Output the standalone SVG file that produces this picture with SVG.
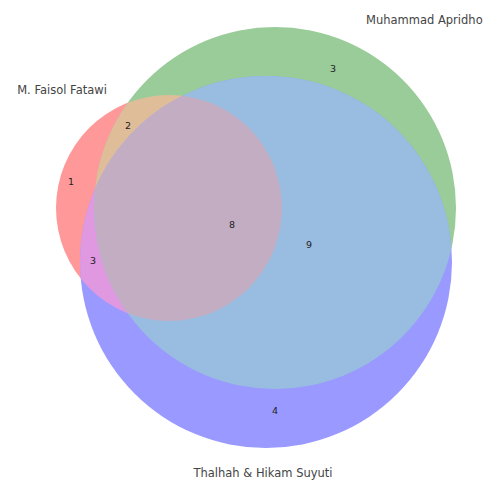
<svg xmlns="http://www.w3.org/2000/svg" width="496" height="481" viewBox="0 0 496 481">
  <style>
    .setlabel { font-family: "DejaVu Sans", "Liberation Sans", sans-serif; font-size: 11.5px; fill: #444444; }
    .num { font-family: "DejaVu Sans", "Liberation Sans", sans-serif; font-size: 9.5px; fill: #222222; text-anchor: middle; dominant-baseline: central; }
  </style>
  <defs>
    <clipPath id="clipA"><circle cx="169" cy="208" r="113"/></clipPath>
    <clipPath id="clipB"><circle cx="275" cy="208" r="181"/></clipPath>
  </defs>
  <rect width="496" height="481" fill="#ffffff"/>
  <g id="set-a-faisol">
    <circle cx="169" cy="208" r="113" fill="#ff9999"/>
  </g>
  <g id="set-b-apridho">
    <circle cx="275" cy="208" r="181" fill="#99cc99"/>
  </g>
  <g id="set-c-thalhah">
    <circle cx="266" cy="262" r="186" fill="#9999ff"/>
  </g>
  <g id="region-ab">
    <circle cx="275" cy="208" r="181" fill="#e0bd99" clip-path="url(#clipA)"/>
  </g>
  <g id="region-ac">
    <circle cx="266" cy="262" r="186" fill="#e099e0" clip-path="url(#clipA)"/>
  </g>
  <g id="region-bc">
    <circle cx="266" cy="262" r="186" fill="#99bde0" clip-path="url(#clipB)"/>
  </g>
  <g id="region-abc" clip-path="url(#clipA)">
    <circle cx="266" cy="262" r="186" fill="#c2adc2" clip-path="url(#clipB)"/>
  </g>
  <g id="connectors"/>
  <g id="labels">
    <text class="setlabel" x="62" y="94" text-anchor="middle">M. Faisol Fatawi</text>
    <text class="setlabel" x="366" y="24">Muhammad Apridho</text>
    <text class="setlabel" x="263" y="477" text-anchor="middle">Thalhah &amp; Hikam Suyuti</text>
    <text class="num" x="71" y="181">1</text>
    <text class="num" x="128" y="125">2</text>
    <text class="num" x="333" y="68">3</text>
    <text class="num" x="93" y="260">3</text>
    <text class="num" x="232" y="224">8</text>
    <text class="num" x="309" y="244">9</text>
    <text class="num" x="275" y="410">4</text>
  </g>
</svg>
